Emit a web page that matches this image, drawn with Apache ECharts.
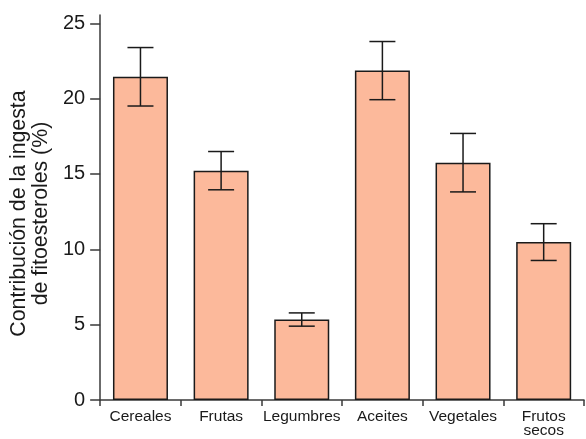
<!DOCTYPE html>
<html>
<head>
<meta charset="utf-8">
<script src="https://cdn.jsdelivr.net/npm/echarts@6/dist/echarts.min.js"></script>
<style>
  html, body { margin: 0; padding: 0; background: #fff; }
  #chart { width: 586px; height: 439px; }
</style>
</head>
<body>
<div id="chart"></div>
<script>
// Food groups and their share of phytosterol intake (%), with standard deviations
const categories = ['Cereales', 'Frutas', 'Legumbres', 'Aceites', 'Vegetales', 'Frutos\nsecos'];
const contribution = [21.45, 15.22, 5.34, 21.86, 15.75, 10.48];
const deviation = [1.94, 1.27, 0.44, 1.93, 1.94, 1.22];
const yTicks = [0, 5, 10, 15, 20, 25];

const FONT = '"Liberation Sans", Arial, Helvetica, sans-serif';
const INK = '#1a1a1a';

const errorData = contribution.map((v, i) => [i, v - deviation[i], v + deviation[i]]);

const chart = echarts.init(document.getElementById('chart'), null, { renderer: 'canvas' });

chart.setOption({
  animation: false,
  backgroundColor: '#ffffff',
  grid: { left: 95, right: 2, top: 15, bottom: 36.3, containLabel: false },
  xAxis: {
    type: 'category',
    data: categories,
    axisLine: { lineStyle: { color: '#3a3a3a', width: 1.5 } },
    axisTick: { show: true, alignWithLabel: false, length: 6, lineStyle: { color: '#3a3a3a', width: 1.5 } },
    axisLabel: {
      color: INK, fontFamily: FONT, fontSize: 15.5, lineHeight: 14,
      margin: 10, interval: 0, verticalAlign: 'top'
    }
  },
  yAxis: {
    type: 'value',
    min: 0,
    max: 25.55,
    name: 'Contribución de la ingesta\nde fitoesteroles (%)',
    nameLocation: 'middle',
    nameRotate: 90,
    nameGap: 35,
    nameTextStyle: {
      color: INK, fontFamily: FONT, fontSize: 21.3, lineHeight: 22,
      align: 'center', padding: [0, 12, 0, 0]
    },
    splitLine: { show: false },
    axisLine: { show: true, lineStyle: { color: '#3a3a3a', width: 1.5 } },
    axisTick: { show: true, length: 10, customValues: yTicks, lineStyle: { color: '#3a3a3a', width: 1.5 } },
    axisLabel: { color: INK, fontFamily: FONT, fontSize: 20, margin: 15, customValues: yTicks }
  },
  series: [
    {
      type: 'bar',
      data: contribution,
      barWidth: 55,
      itemStyle: { color: '#fcb99b', borderColor: INK, borderWidth: 1.5 },
      z: 2
    },
    {
      type: 'custom',
      data: errorData,
      z: 3,
      renderItem: function (params, api) {
        const x = api.value(0);
        const lo = api.coord([x, api.value(1)]);
        const hi = api.coord([x, api.value(2)]);
        const half = 13;
        const style = { stroke: INK, lineWidth: 1.5 };
        return {
          type: 'group',
          children: [
            { type: 'line', shape: { x1: hi[0], y1: hi[1], x2: lo[0], y2: lo[1] }, style: style },
            { type: 'line', shape: { x1: hi[0] - half, y1: hi[1], x2: hi[0] + half, y2: hi[1] }, style: style },
            { type: 'line', shape: { x1: lo[0] - half, y1: lo[1], x2: lo[0] + half, y2: lo[1] }, style: style }
          ]
        };
      }
    }
  ]
});
</script>
</body>
</html>
